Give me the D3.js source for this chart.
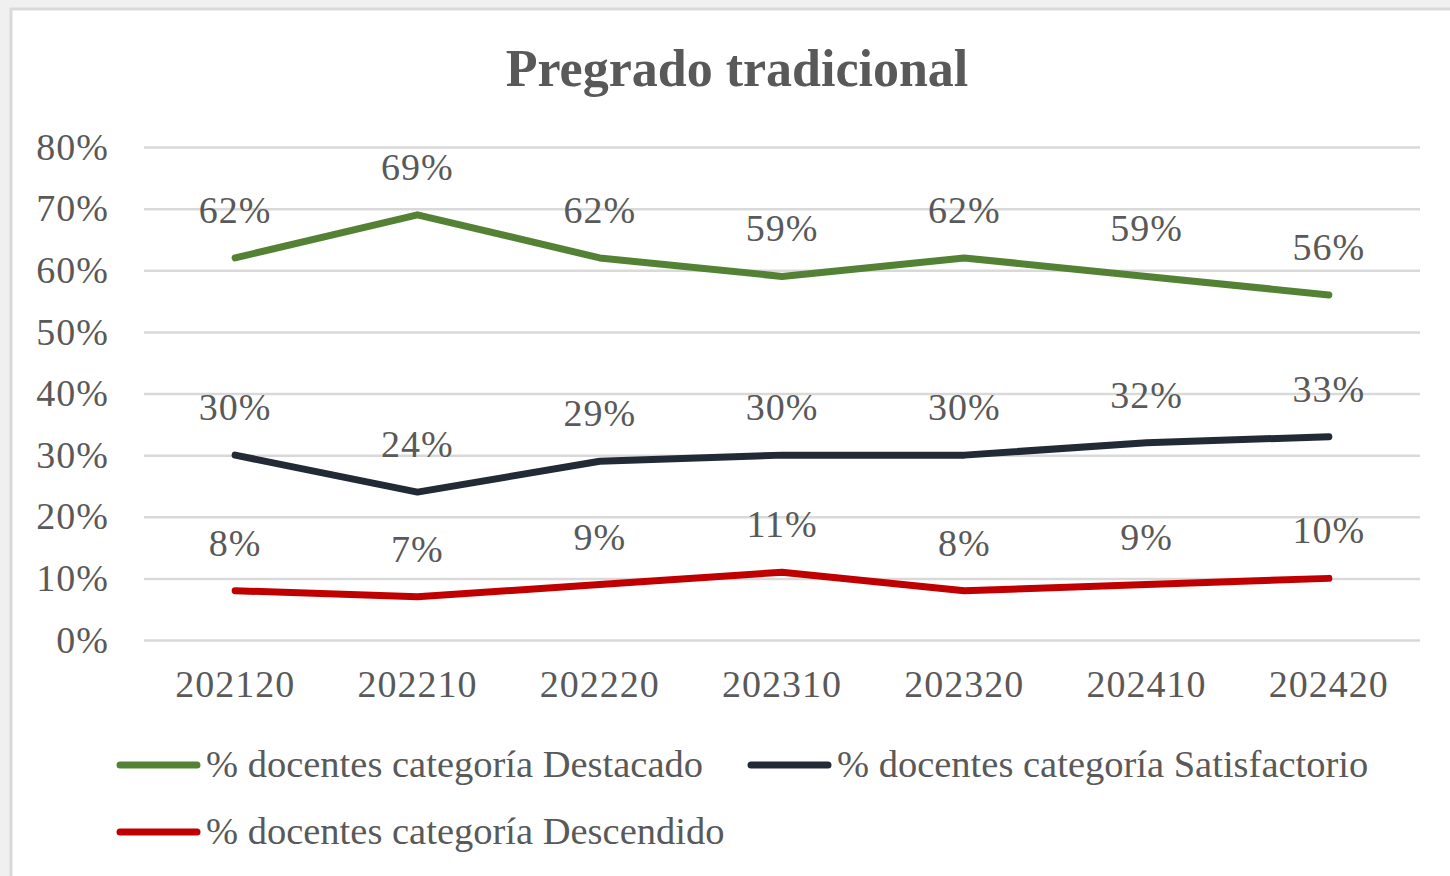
<!DOCTYPE html>
<html>
<head>
<meta charset="utf-8">
<script src="https://cdn.jsdelivr.net/npm/d3@7"></script>
<style>
  body { margin: 0; background: #f0f0f0; }
  svg { display: block; }
  text { font-family: "Liberation Serif", "DejaVu Serif", serif; fill: #595959; }
</style>
</head>
<body>
<div id="chart"></div>
<script>
// chart data
const periods = ["202120", "202210", "202220", "202310", "202320", "202410", "202420"]
const destacado = [62, 69, 62, 59, 62, 59, 56]
const satisfactorio = [30, 24, 29, 30, 30, 32, 33]
const descendido = [8, 7, 9, 11, 8, 9, 10]
const yTicks = [0, 10, 20, 30, 40, 50, 60, 70, 80]
const seriesNames = [
  "% docentes categoría Destacado",
  "% docentes categoría Satisfactorio",
  "% docentes categoría Descendido"
]
const colors = ["#548235", "#222a35", "#c00000"]

const width = 1450
const height = 876
const plot = { left: 144, right: 1420, top: 147, bottom: 640 }

var svg = d3.select("#chart")
  .append("svg")
  .attr("width", width)
  .attr("height", height)

// chart box
svg.append("rect")
  .attr("x", 11)
  .attr("y", 9)
  .attr("width", width)
  .attr("height", height)
  .style("fill", "#fff")
  .style("stroke", "#d9d9d9")
  .style("stroke-width", 3)

svg.append("text")
  .attr("x", 737)
  .attr("y", 86)
  .attr("text-anchor", "middle")
  .style("font-size", "52px")
  .style("font-weight", "bold")
  .text("Pregrado tradicional")

const x = d3.scaleBand()
  .domain(periods)
  .range([plot.left, plot.right])

const y = d3.scaleLinear()
  .domain([0, 80])
  .range([plot.bottom, plot.top])

// gridlines + y labels
const yAxis = svg.append("g")
  .attr("transform", `translate(${plot.left},0)`)
  .call(d3.axisLeft(y)
    .tickValues(yTicks)
    .tickSize(-(plot.right - plot.left))
    .tickPadding(35)
    .tickFormat(d => d + "%"))
yAxis.select(".domain").remove()
yAxis.selectAll(".tick line")
  .style("stroke", "#d9d9d9")
  .style("stroke-width", 2.5)
yAxis.selectAll(".tick text")
  .style("font-size", "38px")
  .style("letter-spacing", "1px")
  .style("font-family", null)
  .attr("fill", "#595959")

// x labels
const xAxis = svg.append("g")
  .attr("transform", `translate(0,${plot.bottom})`)
  .call(d3.axisBottom(x).tickSize(0).tickPadding(30))
xAxis.select(".domain").remove()
xAxis.selectAll(".tick text")
  .style("font-size", "38px")
  .style("letter-spacing", "1px")
  .style("font-family", null)
  .attr("fill", "#595959")

const series = [destacado, satisfactorio, descendido]
const cx = d => x(d) + x.bandwidth() / 2

const line = d3.line()
  .x((d, i) => cx(periods[i]))
  .y(d => y(d))

series.forEach((values, s) => {
  svg.append("path")
    .datum(values)
    .attr("d", line)
    .style("fill", "none")
    .style("stroke", colors[s])
    .style("stroke-width", 7)
    .style("stroke-linecap", "round")
    .style("stroke-linejoin", "round")

  svg.selectAll(".label-" + s)
    .data(values)
    .enter().append("text")
    .attr("class", "label-" + s)
    .attr("x", (d, i) => cx(periods[i]))
    .attr("y", d => y(d) - 35)
    .attr("text-anchor", "middle")
    .style("font-size", "38px")
    .style("letter-spacing", "1px")
    .text(d => d + "%")
})

// legend
const legendItems = [
  { x: 117, y: 765 },
  { x: 748, y: 765 },
  { x: 117, y: 832 }
]
legendItems.forEach((p, s) => {
  svg.append("line")
    .attr("x1", p.x + 3)
    .attr("x2", p.x + 80)
    .attr("y1", p.y)
    .attr("y2", p.y)
    .style("stroke", colors[s])
    .style("stroke-width", 7)
    .style("stroke-linecap", "round")
  svg.append("text")
    .attr("x", p.x + 89)
    .attr("y", p.y + 12)
    .style("font-size", "38.5px")
    .text(seriesNames[s])
})
</script>
</body>
</html>
